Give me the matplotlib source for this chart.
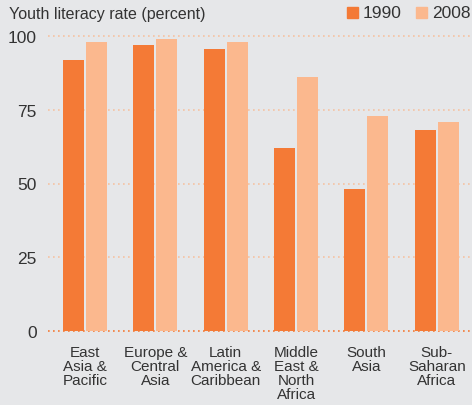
import numpy as np
import matplotlib.pyplot as plt

# data
regions = ["East\nAsia &\nPacific", "Europe &\nCentral\nAsia", "Latin\nAmerica &\nCaribbean",
           "Middle\nEast &\nNorth\nAfrica", "South\nAsia", "Sub-\nSaharan\nAfrica"]
rate_1990 = [92, 97, 95.5, 62, 48, 68]
rate_2008 = [98, 99, 98, 86, 73, 71]
yticks = [0, 25, 50, 75, 100]

BG = "#e6e7e9"
C1990 = "#f47a36"
C2008 = "#fbb88e"
TXT = "#333333"

plt.rcParams["font.family"] = ["Liberation Sans", "DejaVu Sans"]

fig = plt.figure(figsize=(4.72, 4.06), dpi=100, facecolor=BG)
ax = fig.add_axes([48 / 472, 74 / 406, 424 / 472, 295 / 406], facecolor=BG)

x = np.arange(len(regions))
w = 0.298
off = 0.163

# gridlines (dotted)
for t in yticks:
    col = C1990 if t == 0 else "#f5c2a2"
    ax.hlines(t, -0.525, 5.5, colors=col, linestyles=(0, (1, 2)), linewidth=1.2,
              clip_on=False, zorder=1)

ax.bar(x - off, rate_1990, width=w, color=C1990, zorder=2)
ax.bar(x + off, rate_2008, width=w, color=C2008, zorder=2)

ax.set_xlim(-0.525, 5.5)
ax.set_ylim(0, 100)
for s in ax.spines.values():
    s.set_visible(False)

ax.set_yticks(yticks)
ax.set_yticklabels([str(t) for t in yticks], fontsize=12.5, color=TXT)
ax.tick_params(axis="y", length=0, pad=8)
ax.set_xticks(x)
ax.set_xticklabels(regions, fontsize=11, color=TXT, linespacing=1.0)
ax.tick_params(axis="x", length=0, pad=10)

fig.text(9 / 472, 1 - 14 / 406, "Youth literacy rate (percent)", fontsize=11.5,
         color=TXT, va="center", ha="left")

# legend
for xs, c, lab in [(347, C1990, "1990"), (416, C2008, "2008")]:
    fig.patches.append(plt.Rectangle((xs / 472, 1 - 19 / 406), 11 / 472, 11 / 406,
                                     transform=fig.transFigure, color=c))
    fig.text((xs + 16) / 472, 1 - 14 / 406, lab, fontsize=12.5, color=TXT,
             va="center", ha="left")

fig.savefig("out.png", dpi=100, facecolor=BG)
